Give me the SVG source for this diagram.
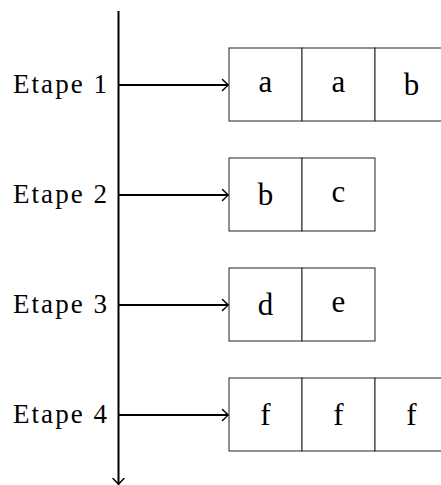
<svg xmlns="http://www.w3.org/2000/svg" width="441" height="485" viewBox="0 0 441 485">
  <style>
    .lbl { font-family: "Liberation Serif", "Times New Roman", serif; font-size: 27px; fill: #000; text-anchor: end; }
    .cell { fill: #fff; stroke: #222; stroke-width: 1; }
    .sym { font-family: "Liberation Serif", "Times New Roman", serif; font-size: 31px; fill: #000; text-anchor: middle; }
    .axis { stroke: #000; stroke-width: 2; fill: none; }
    .link { stroke: #000; stroke-width: 1.8; fill: none; }
  </style>
  <defs>
    <marker id="tip" markerUnits="userSpaceOnUse" markerWidth="12" markerHeight="14" refX="0" refY="0" viewBox="-8 -7 10 14" orient="auto" overflow="visible">
      <path d="M -5.5 -5.5 Q -1 -1 0.5 0 Q -1 1 -5.5 5.5" fill="none" stroke="#000" stroke-width="1.5" stroke-linecap="round"/>
    </marker>
  </defs>

  <!-- time axis and step arrows -->
  <g id="connectors">
    <line class="axis" x1="118.5" y1="11" x2="118.5" y2="484" marker-end="url(#tip)"/>
    <line class="link" x1="118.5" y1="85" x2="228" y2="85" marker-end="url(#tip)"/>
    <line class="link" x1="118.5" y1="195" x2="228" y2="195" marker-end="url(#tip)"/>
    <line class="link" x1="118.5" y1="305" x2="228" y2="305" marker-end="url(#tip)"/>
    <line class="link" x1="118.5" y1="415" x2="228" y2="415" marker-end="url(#tip)"/>
  </g>

  <!-- step labels -->
  <g id="label1"><text class="lbl" x="107" y="92.5" textLength="94" lengthAdjust="spacing">Etape 1</text></g>
  <g id="label2"><text class="lbl" x="107" y="202.5" textLength="94" lengthAdjust="spacing">Etape 2</text></g>
  <g id="label3"><text class="lbl" x="107" y="312.5" textLength="94" lengthAdjust="spacing">Etape 3</text></g>
  <g id="label4"><text class="lbl" x="107" y="422.5" textLength="94" lengthAdjust="spacing">Etape 4</text></g>

  <!-- step 1: a a b -->
  <g id="step1">
    <rect class="cell" x="229" y="48" width="73" height="73"/>
    <rect class="cell" x="302" y="48" width="73" height="73"/>
    <rect class="cell" x="375" y="48" width="73" height="73"/>
    <text class="sym" x="265.5" y="92">a</text>
    <text class="sym" x="338.5" y="92">a</text>
    <text class="sym" x="411.5" y="95">b</text>
  </g>

  <!-- step 2: b c -->
  <g id="step2">
    <rect class="cell" x="229" y="158" width="73" height="73"/>
    <rect class="cell" x="302" y="158" width="73" height="73"/>
    <text class="sym" x="265.5" y="205">b</text>
    <text class="sym" x="338.5" y="202">c</text>
  </g>

  <!-- step 3: d e -->
  <g id="step3">
    <rect class="cell" x="229" y="268" width="73" height="73"/>
    <rect class="cell" x="302" y="268" width="73" height="73"/>
    <text class="sym" x="265.5" y="315">d</text>
    <text class="sym" x="338.5" y="312">e</text>
  </g>

  <!-- step 4: f f f -->
  <g id="step4">
    <rect class="cell" x="229" y="378" width="73" height="73"/>
    <rect class="cell" x="302" y="378" width="73" height="73"/>
    <rect class="cell" x="375" y="378" width="73" height="73"/>
    <text class="sym" x="265.5" y="425">f</text>
    <text class="sym" x="338.5" y="425">f</text>
    <text class="sym" x="411.5" y="425">f</text>
  </g>
</svg>
